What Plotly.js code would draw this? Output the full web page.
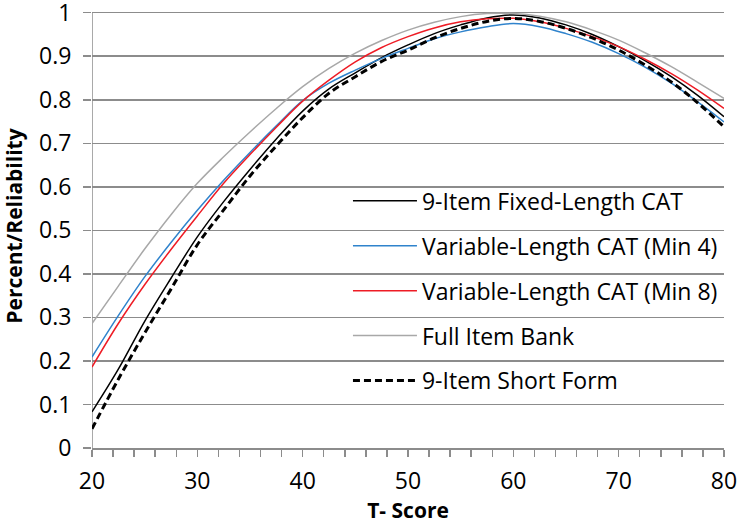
<!DOCTYPE html>
<html>
<head>
<meta charset="utf-8">
<script src="https://cdn.plot.ly/plotly-3.0.1.min.js"></script>
<style>
  html, body { margin: 0; padding: 0; background: #fff; }
  #plot { width: 740px; height: 528px; }
</style>
</head>
<body>
<div id="plot"></div>
<script>
// T-score grid, values
const tScore = [20, 22.5, 25, 27.5, 30, 32.5, 35, 37.5, 40, 42.5, 45, 47.5, 50,
                52.5, 55, 57.5, 60, 62.5, 65, 67.5, 70, 72.5, 75, 77.5, 80];

const fixedCat = [0.083, 0.181, 0.291, 0.39, 0.485, 0.566, 0.64, 0.71, 0.774, 0.825, 0.862, 0.897, 0.926,
                  0.952, 0.972, 0.988, 0.995, 0.988, 0.972, 0.95, 0.922, 0.89, 0.853, 0.81, 0.761];
const varMin4 = [0.209, 0.304, 0.393, 0.472, 0.546, 0.615, 0.679, 0.74, 0.798, 0.838, 0.868, 0.895, 0.918,
                 0.94, 0.956, 0.968, 0.975, 0.968, 0.952, 0.932, 0.906, 0.875, 0.838, 0.795, 0.749];
const varMin8 = [0.186, 0.286, 0.375, 0.456, 0.533, 0.608, 0.674, 0.737, 0.797, 0.845, 0.887, 0.92, 0.945,
                 0.965, 0.979, 0.986, 0.987, 0.979, 0.964, 0.945, 0.922, 0.893, 0.86, 0.822, 0.78];
const fullBank = [0.286, 0.372, 0.457, 0.536, 0.608, 0.669, 0.726, 0.78, 0.83, 0.872, 0.907, 0.936, 0.96,
                  0.978, 0.991, 0.998, 0.998, 0.992, 0.979, 0.96, 0.937, 0.908, 0.876, 0.84, 0.803];
const shortForm = [0.044, 0.158, 0.264, 0.365, 0.467, 0.547, 0.625, 0.694, 0.759, 0.815, 0.853, 0.888, 0.914,
                   0.942, 0.964, 0.98, 0.987, 0.98, 0.964, 0.942, 0.914, 0.88, 0.841, 0.793, 0.738];

const names = ['9-Item Fixed-Length CAT', 'Variable-Length CAT (Min 4)', 'Variable-Length CAT (Min 8)',
               'Full Item Bank', '9-Item Short Form'];

const yTicks = [0, 0.1, 0.2, 0.3, 0.4, 0.5, 0.6, 0.7, 0.8, 0.9, 1];
const yTickText = ['0', '0.1', '0.2', '0.3', '0.4', '0.5', '0.6', '0.7', '0.8', '0.9', '1'];

const font = "'Open Sans', 'Liberation Sans', sans-serif";
const axisGray = '#8c8c8c';

const series = [
    { y: fixedCat, color: '#000000', width: 1.5, dash: 'solid' },
    { y: varMin4, color: '#2f83cc', width: 1.5, dash: 'solid' },
    { y: varMin8, color: '#ee1c25', width: 1.5, dash: 'solid' },
    { y: fullBank, color: '#a8a8a8', width: 1.5, dash: 'solid' },
    { y: shortForm, color: '#000000', width: 3, dash: '7px,4px' },
];

const data = series.map((s, i) => ({
    x: tScore,
    y: s.y,
    name: names[i],
    legendgroup: 'g' + i,
    mode: 'lines',
    type: 'scatter',
    line: { color: s.color, width: s.width, dash: s.dash, shape: 'spline', smoothing: 1 },
}));

const layout = {
    width: 740,
    height: 528,
    margin: { l: 92, r: 16, t: 4, b: 80 },
    paper_bgcolor: '#ffffff',
    plot_bgcolor: '#ffffff',
    font: { family: font, color: '#000000', size: 23 },
    showlegend: true,
    legend: {
        x: 0.405, y: 0.605, xanchor: 'left', yanchor: 'top',
        bgcolor: 'rgba(0,0,0,0)',
        font: { family: font, size: 23, color: '#000' },
        itemwidth: 64,
        traceorder: 'grouped',
        tracegroupgap: 12,
    },
    // left axis line stops at the 1.0 gridline, as in the original
    shapes: [{
        type: 'line', xref: 'x', yref: 'y', x0: 20, x1: 20, y0: 0, y1: 1,
        line: { color: axisGray, width: 1.5 }, layer: 'below',
    }],
    xaxis: {
        range: [20, 80],
        dtick: 10,
        showgrid: false,
        zeroline: false,
        showline: true,
        linecolor: axisGray,
        linewidth: 1.5,
        ticks: 'outside',
        ticklen: 7,
        tickcolor: axisGray,
        tickwidth: 1.5,
        ticklabelstandoff: 5,
        ticklabeloverflow: 'allow',
        minor: { dtick: 2, ticks: 'outside', ticklen: 7, tickcolor: axisGray, tickwidth: 1.5, showgrid: false },
        tickfont: { family: font, size: 23 },
        title: { text: '<b>T- Score</b>', font: { family: font, size: 21 }, standoff: 6 },
    },
    yaxis: {
        range: [0, 1.02],
        tickvals: yTicks,
        ticktext: yTickText,
        showgrid: true,
        gridcolor: axisGray,
        gridwidth: 1.5,
        zeroline: false,
        showline: false,
        ticks: 'outside',
        ticklen: 8,
        tickcolor: axisGray,
        tickwidth: 1.5,
        ticklabelstandoff: 7,
        ticklabeloverflow: 'allow',
        tickfont: { family: font, size: 23 },
        title: { text: '<b>Percent/Reliability</b>', font: { family: font, size: 21 }, standoff: 10 },
    },
};

Plotly.newPlot('plot', data, layout, { staticPlot: true });
</script>
</body>
</html>
